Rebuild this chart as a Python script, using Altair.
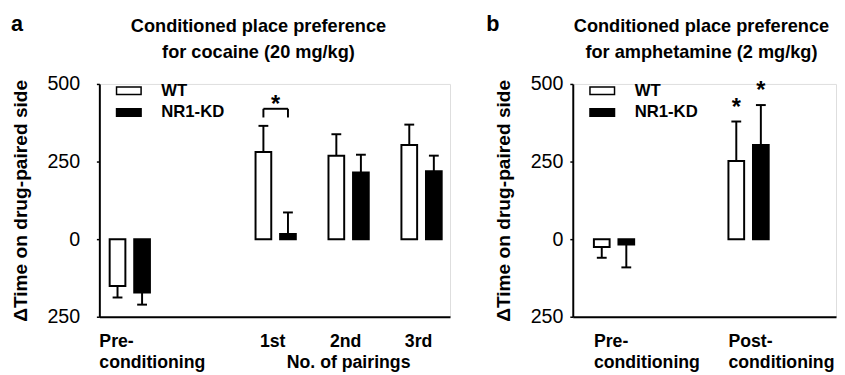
import altair as alt
import pandas as pd

# ---------------- data ----------------
groups = ["WT", "NR1-KD"]

# panel a: cocaine (20 mg/kg)
sessions_a = ["Pre-conditioning", "1st", "2nd", "3rd"]
wt_mean_a = [-151, 281, 269, 303]
wt_sem_a = [37, 84, 69, 66]
kd_mean_a = [-172, 17, 215, 219]
kd_sem_a = [39, 69, 57, 50]
labels_a = ["Pre-\nconditioning", "1st", "2nd", "3rd"]
title_a = ["Conditioned place preference", "for cocaine (20 mg/kg)"]

# panel b: amphetamine (2 mg/kg)
sessions_b = ["Pre-conditioning", "Post-conditioning"]
wt_mean_b = [-25, 252]
wt_sem_b = [35, 127]
kd_mean_b = [-17, 303]
kd_sem_b = [74, 129]
labels_b = ["Pre-\nconditioning", "Post-\nconditioning"]
title_b = ["Conditioned place preference", "for amphetamine (2 mg/kg)"]

# significance marks
sig_bracket_a = {"session": "1st", "level": 420, "leg": 392}
sig_stars_b = [("Post-conditioning", "WT"), ("Post-conditioning", "NR1-KD")]

y_ticks = [-250, 0, 250, 500]
y_title = "ΔTime on drug-paired side"

# ---------------- layout ----------------
slots_a = {"Pre-conditioning": 0, "1st": 2, "2nd": 3, "3rd": 4}
slots_b = {"Pre-conditioning": 0, "Post-conditioning": 1}
OFF = {"WT": -12.5, "NR1-KD": 12.5}
FONT = "Liberation Sans"
H = 237


def long_df(sessions, slots, wm, ws, km, ks):
    rows = []
    for g, ms, ss in [("WT", wm, ws), ("NR1-KD", km, ks)]:
        for sess, m, s in zip(sessions, ms, ss):
            end = m + s if m >= 0 else m - s
            rows.append(dict(session=sess, slot=slots[sess], group=g, mean=m, sem=s, end=end))
    return pd.DataFrame(rows)


df_a = long_df(sessions_a, slots_a, wt_mean_a, wt_sem_a, kd_mean_a, kd_sem_a)
df_b = long_df(sessions_b, slots_b, wt_mean_b, wt_sem_b, kd_mean_b, kd_sem_b)

y_scale = alt.Scale(domain=[-250, 500], nice=False, zero=False)


def make_y_axis(title_x, label_padding):
    return alt.Axis(values=y_ticks, labelExpr="format(abs(datum.value), 'd')", title=y_title,
                    titleX=title_x, titleY=H / 2, titleAngle=-90, titleAlign="center",
                    titleBaseline="middle", labelPadding=label_padding)


legend = alt.Legend(
    title=None, orient="none", legendX=19, legendY=-4, padding=0,
    symbolType="M-1.25,-0.38H1.25V0.38H-1.25Z", symbolSize=400,
    symbolStrokeColor="black", symbolStrokeWidth=1.5, symbolOpacity=1,
    labelFontSize=17, labelFontWeight="bold", labelFont=FONT, labelColor="black",
    labelOffset=22, rowPadding=3,
)


def panel(df, slots, domain, width, label_list, sessions, title_lines, title_cx, letter,
          label_mode, extra, y_axis):
    xs = alt.Scale(domain=domain, nice=False, zero=False, padding=0)
    X = alt.X("slot:Q", scale=xs, axis=alt.Axis(labels=False, ticks=False, title=None))
    Ymean = alt.Y("mean:Q", scale=y_scale, axis=y_axis)
    Yend = alt.Y("end:Q", scale=y_scale, axis=y_axis)
    fill = alt.Fill("group:N", scale=alt.Scale(domain=groups, range=["white", "black"]), legend=legend)
    layers = []
    for g in groups:
        off = OFF[g]
        sub = alt.Chart(df).transform_filter(alt.datum.group == g)
        layers.append(sub.mark_bar(orient="vertical", size=16, stroke="black", strokeWidth=2,
                                   xOffset=off).encode(x=X, y=Ymean, y2=alt.datum(0), fill=fill))
        layers.append(sub.mark_rule(strokeWidth=2, color="black", xOffset=off)
                      .encode(x=X, y=Ymean, y2="end:Q"))
        layers.append(sub.mark_rule(strokeWidth=2, color="black", xOffset=off - 5, x2Offset=off + 5)
                      .encode(x=X, x2="slot:Q", y=Yend))
    # category labels below the axis
    lab = pd.DataFrame({"slot": [slots[s] for s in sessions], "label": label_list})
    tstyle = dict(baseline="alphabetic", lineBreak="\n", lineHeight=21, fontSize=18,
                  fontWeight="bold", font=FONT, color="black", dy=31)
    Ybottom = alt.Y(datum=-250, scale=y_scale, axis=y_axis)
    if label_mode == "a":
        layers.append(alt.Chart(lab.iloc[:1]).mark_text(align="left", dx=-31, **tstyle)
                      .encode(x=X, y=Ybottom, text="label:N"))
        layers.append(alt.Chart(lab.iloc[1:]).mark_text(align="center", dx=-3, **tstyle)
                      .encode(x=X, y=Ybottom, text="label:N"))
    else:
        layers.append(alt.Chart(lab).mark_text(align="left", dx=-20.5, **tstyle)
                      .encode(x=X, y=Ybottom, text="label:N"))
    # panel letter and two-line title
    layers.append(alt.Chart(pd.DataFrame({"t": [letter]})).mark_text(
        align="left", baseline="alphabetic", fontSize=22, fontWeight="bold", font=FONT, color="black"
    ).encode(text="t:N", x=alt.value(-90 if letter == "a" else -88), y=alt.value(-54)))
    layers.append(alt.Chart(pd.DataFrame({"t": ["\n".join(title_lines)]})).mark_text(
        align="center", baseline="alphabetic", fontSize=18.5, fontWeight="bold", font=FONT,
        color="black", lineBreak="\n", lineHeight=27
    ).encode(text="t:N", x=alt.value(title_cx), y=alt.value(-53)))
    layers += extra(X, y_axis)
    return alt.layer(*layers).properties(width=width, height=H)


def extra_a(X, y_axis):
    br = pd.DataFrame({"slot": [slots_a[sig_bracket_a["session"]]],
                       "level": [sig_bracket_a["level"]], "leg": [sig_bracket_a["leg"]]})
    Yl = alt.Y("level:Q", scale=y_scale, axis=y_axis)
    c = alt.Chart(br)
    out = [c.mark_rule(strokeWidth=2, color="black", xOffset=OFF["WT"], x2Offset=OFF["NR1-KD"])
           .encode(x=X, x2="slot:Q", y=Yl)]
    for g in groups:
        out.append(c.mark_rule(strokeWidth=2, color="black", xOffset=OFF[g])
                   .encode(x=X, y=Yl, y2="leg:Q"))
    out.append(c.mark_text(text="*", fontSize=24, fontWeight="bold", font=FONT, color="black",
                           baseline="alphabetic", dy=3).encode(x=X, y=Yl))
    out.append(alt.Chart(pd.DataFrame({"slot": [slots_a["2nd"]], "t": ["No. of pairings"]}))
               .mark_text(baseline="alphabetic", fontSize=18, fontWeight="bold", font=FONT,
                          color="black", dy=52)
               .encode(x=X, y=alt.Y(datum=-250, scale=y_scale, axis=y_axis), text="t:N"))
    return out


def extra_b(X, y_axis):
    out = []
    for sess, g in sig_stars_b:
        sub = df_b[(df_b.session == sess) & (df_b.group == g)]
        out.append(alt.Chart(sub).mark_text(text="*", fontSize=24, fontWeight="bold", font=FONT,
                                            color="black", baseline="alphabetic", dy=-7,
                                            xOffset=OFF[g])
                   .encode(x=X, y=alt.Y("end:Q", scale=y_scale, axis=y_axis)))
    return out


pa = panel(df_a, slots_a, [-0.4175, 4.39], 357, labels_a, sessions_a,
           title_a, 162, "a", "a", extra_a, make_y_axis(-80, 17))
pb = panel(df_b, slots_b, [-0.3066, 1.65], 268, labels_b, sessions_b,
           title_b, 131, "b", "b", extra_b, make_y_axis(-70, 7))

chart = (
    alt.hconcat(pa, pb, spacing=125, bounds="flush")
    .resolve_scale(fill="independent")
    .resolve_legend(fill="independent")
    .properties(padding={"left": 2, "top": 1, "right": 0, "bottom": 0})
    .configure_view(stroke=None)
    .configure(font=FONT)
    .configure_axisY(grid=False, tickSize=3, tickWidth=1.5, tickColor="black",
                     domainColor="black", domainWidth=2, labelFontSize=20, labelColor="black",
                     labelFont=FONT, titleFontSize=19.5, titleFontWeight="bold",
                     titleColor="black", titleFont=FONT)
    .configure_axisX(grid=False, domainColor="black", domainWidth=2)
)

chart.save("out.html", embed_options={"renderer": "svg", "actions": False})
